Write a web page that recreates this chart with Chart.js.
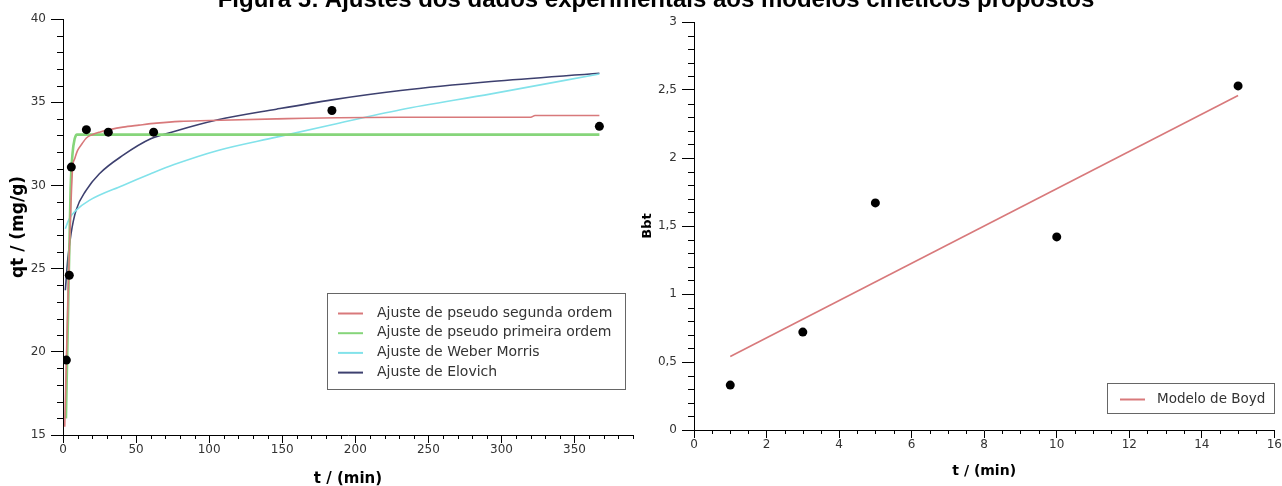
<!DOCTYPE html>
<html>
<head>
<meta charset="utf-8">
<script src="https://cdn.jsdelivr.net/npm/chart.js@4.4.1/dist/chart.umd.min.js"></script>
<style>
  html, body { margin: 0; padding: 0; background: #fff; }
  body { width: 1282px; height: 486px; position: relative; overflow: hidden; }
  #title {
    position: absolute; left: 0; top: -13px; width: 1282px; padding-left: 30px; box-sizing: border-box;
    text-align: center; font: bold 24px "Liberation Sans", Arial, sans-serif; line-height: 24px;
    color: #000; z-index: 2; white-space: nowrap;
  }
  .panel { position: absolute; top: 0; height: 486px; }
</style>
</head>
<body>
<div id="title">Figura 5: Ajustes dos dados experimentais aos modelos cinéticos propostos</div>
<div class="panel" style="left:0;width:640px"><canvas id="kinetics" width="640" height="486"></canvas></div>
<div class="panel" style="left:640px;width:642px"><canvas id="boyd" width="642" height="486"></canvas></div>
<script>
// ---- Kinetic data: qt (mg/g) versus t (min) ----
const tExp = [2.3, 4.3, 5.7, 16, 31, 62, 184, 367];
const qExp = [19.5, 24.6, 31.1, 33.35, 33.2, 33.2, 34.5, 33.55];

// Pseudo-second-order fit
const tPSO = [1.2, 2.3, 3.5, 4.5, 5.5, 6.6, 8, 10, 13, 16, 20, 25, 32, 41, 52, 64, 80, 100, 146, 231, 320, 323, 367];
const qPSO = [15.5, 19.5, 23.5, 26.5, 29, 31.1, 31.6, 32.1, 32.5, 32.85, 33.05, 33.2, 33.35, 33.5, 33.62, 33.74, 33.85, 33.9, 34.0, 34.1, 34.1, 34.2, 34.2];

// Pseudo-first-order fit
const tPFO = [2, 3.5, 5.2, 6.5, 8, 9.6, 367];
const qPFO = [16, 22.5, 29.8, 31.9, 32.8, 33.05, 33.05];

// Weber-Morris (intraparticle diffusion) fit
const tWM = [1.6, 4, 8.9, 18, 41, 60, 76, 106, 146, 184, 231, 293, 367];
const qWM = [27.4, 27.95, 28.5, 29.1, 30.0, 30.7, 31.25, 32.1, 32.9, 33.65, 34.55, 35.5, 36.7];

// Elovich fit
const tElo = [1.6, 3.2, 5.5, 8.9, 15.8, 24.9, 40.9, 60, 76, 106, 146, 184, 231, 293, 367];
const qElo = [23.7, 25.5, 27.1, 28.5, 29.7, 30.7, 31.8, 32.8, 33.24, 33.94, 34.58, 35.14, 35.7, 36.24, 36.74];

// ---- Boyd model: Bt versus t ----
const tBoyd = [1, 3, 5, 10, 15];
const bbtExp = [0.33, 0.72, 1.67, 1.42, 2.53];
const tBoydFit = [1, 15];
const bbtFit = [0.54, 2.46];

const xy = (xs, ys) => xs.map((x, i) => ({ x, y: ys[i] }));
const comma = v => String(v).replace('.', ',');
const isMajor = (v, major) => Math.abs(v / major - Math.round(v / major)) < 1e-6;

const TICK_FONT = { family: 'DejaVu Sans', size: 12 };

// Short unlabeled ticks between the labelled ones
const minorTicks = {
  id: 'minorTicks',
  afterDraw(chart) {
    const ctx = chart.ctx;
    ctx.save();
    ctx.strokeStyle = '#000';
    ctx.lineWidth = 1;
    ['x', 'y'].forEach(id => {
      const s = chart.scales[id];
      const o = s.options;
      s.ticks.forEach(t => {
        if (isMajor(t.value, o.majorEvery)) return;
        const p = Math.round(s.getPixelForValue(t.value)) + 0.5;
        ctx.beginPath();
        if (id === 'x') { ctx.moveTo(p, s.top); ctx.lineTo(p, s.top + o.minorLength); }
        else { ctx.moveTo(s.right - o.minorLength, p); ctx.lineTo(s.right, p); }
        ctx.stroke();
      });
    });
    ctx.restore();
  }
};

// Boxed legend placed inside the plot area
const boxLegend = {
  id: 'boxLegend',
  afterDraw(chart, args, o) {
    const ctx = chart.ctx;
    const items = chart.data.datasets.filter(d => d.inLegend);
    ctx.save();
    ctx.fillStyle = '#fff';
    ctx.fillRect(o.x, o.y, o.w, o.h);
    ctx.strokeStyle = '#666';
    ctx.lineWidth = 1;
    ctx.strokeRect(o.x + 0.5, o.y + 0.5, o.w, o.h);
    ctx.font = o.font;
    ctx.textBaseline = 'middle';
    items.forEach((d, i) => {
      const y = o.firstRow + i * o.rowH;
      ctx.strokeStyle = d.borderColor;
      ctx.lineWidth = 2;
      ctx.beginPath();
      ctx.moveTo(o.x + o.sampleX, y + 0.5);
      ctx.lineTo(o.x + o.sampleX + 25, y + 0.5);
      ctx.stroke();
      ctx.fillStyle = '#333';
      ctx.fillText(d.label, o.x + o.textX, y);
    });
    ctx.restore();
  }
};

function axis(cfg) {
  const { min, max, step, major, fmt, title, titleFont, titlePad, fixed, isX, majorLen, minorLen, labelPad } = cfg;
  return {
    type: 'linear', min, max, majorEvery: major, minorLength: minorLen,
    ticks: {
      stepSize: step, autoSkip: false, maxRotation: 0, color: '#333', font: TICK_FONT,
      padding: labelPad,
      callback: v => (isMajor(v, major) ? fmt(v) : '')
    },
    grid: {
      drawOnChartArea: false, drawTicks: true, tickLength: majorLen, tickWidth: 1,
      tickColor: c => (isMajor(c.tick.value, major) ? '#000' : 'rgba(0,0,0,0)')
    },
    border: { display: true, color: '#000', width: 1 },
    title: { display: true, text: title, color: '#000', font: titleFont, padding: titlePad },
    afterFit: s => { if (isX) s.height = fixed; else s.width = fixed; }
  };
}

const line = (label, color, w, xs, ys) => ({
  label, data: xy(xs, ys), showLine: true, borderColor: color, borderWidth: w,
  pointRadius: 0, cubicInterpolationMode: 'monotone', inLegend: true
});
const dots = (xs, ys) => ({
  label: 'dados', data: xy(xs, ys), showLine: false, pointRadius: 4.5,
  backgroundColor: '#000', borderColor: '#000', borderWidth: 0
});

const common = {
  responsive: false, animation: false, devicePixelRatio: 1,
  plugins: { legend: { display: false }, tooltip: { enabled: false } }
};

new Chart(document.getElementById('kinetics'), {
  type: 'scatter',
  data: {
    datasets: [
      dots(tExp, qExp),
      line('Ajuste de pseudo segunda ordem', '#d8797b', 1.6, tPSO, qPSO),
      line('Ajuste de pseudo primeira ordem', '#86d57a', 2.6, tPFO, qPFO),
      line('Ajuste de Weber Morris', '#82e2ea', 1.6, tWM, qWM),
      line('Ajuste de Elovich', '#3d406f', 1.6, tElo, qElo)
    ]
  },
  options: {
    ...common,
    layout: { padding: { top: 19, right: 7, left: 0, bottom: 0 } },
    scales: {
      x: axis({ min: 0, max: 390, step: 10, major: 50, fmt: v => String(v), title: 't / (min)',
        titleFont: { family: 'DejaVu Sans', size: 15, weight: 'bold' }, titlePad: { top: 0, bottom: -2 },
        fixed: 51, isX: true, majorLen: 8, minorLen: 4, labelPad: 0 }),
      y: axis({ min: 15, max: 40, step: 1, major: 5, fmt: v => String(v), title: 'qt / (mg/g)',
        titleFont: { family: 'DejaVu Sans', size: 17, weight: 'bold' }, titlePad: { top: 8, bottom: 0 },
        fixed: 63, isX: false, majorLen: 12, minorLen: 6, labelPad: 5 })
    },
    plugins: {
      ...common.plugins,
      boxLegend: { x: 327, y: 293, w: 298, h: 96, sampleX: 11, textX: 50, firstRow: 313, rowH: 19.7, font: '14px "DejaVu Sans"' }
    }
  },
  plugins: [minorTicks, boxLegend]
});

new Chart(document.getElementById('boyd'), {
  type: 'scatter',
  data: {
    datasets: [
      dots(tBoyd, bbtExp),
      line('Modelo de Boyd', '#d8797b', 1.6, tBoydFit, bbtFit)
    ]
  },
  options: {
    ...common,
    layout: { padding: { top: 22, right: 1, left: 0, bottom: 0 } },
    scales: {
      x: axis({ min: 0, max: 16, step: 0.5, major: 2, fmt: v => String(v), title: 't / (min)',
        titleFont: { family: 'DejaVu Sans', size: 14, weight: 'bold' }, titlePad: { top: 0, bottom: 6 },
        fixed: 56, isX: true, majorLen: 8, minorLen: 4, labelPad: 0 }),
      y: axis({ min: 0, max: 3, step: 0.1, major: 0.5, fmt: v => comma(Math.round(v * 10) / 10), title: 'Bbt',
        titleFont: { family: 'DejaVu Sans', size: 13, weight: 'bold' }, titlePad: { top: 0, bottom: 0 },
        fixed: 54, isX: false, majorLen: 12, minorLen: 6, labelPad: 5 })
    },
    plugins: {
      ...common.plugins,
      boxLegend: { x: 467, y: 383, w: 167, h: 30, sampleX: 13, textX: 50, firstRow: 399, rowH: 20, font: '13.5px "DejaVu Sans"' }
    }
  },
  plugins: [minorTicks, boxLegend]
});
</script>
</body>
</html>
